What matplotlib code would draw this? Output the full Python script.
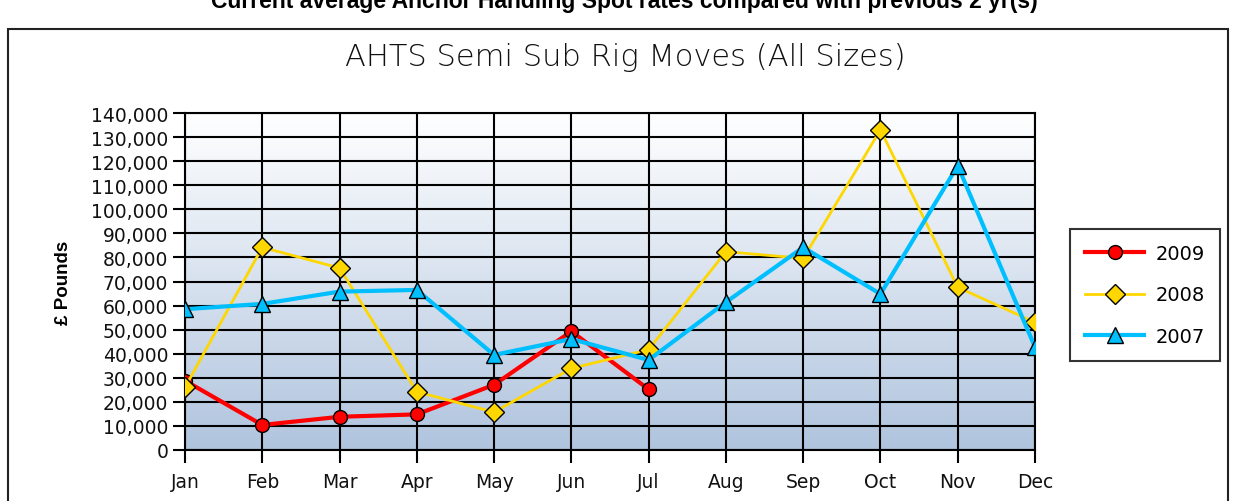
import numpy as np
import matplotlib
matplotlib.use("Agg")
import matplotlib.pyplot as plt
from matplotlib.patches import Rectangle
from matplotlib.ticker import FuncFormatter

# Datos
meses = ['Jan', 'Feb', 'Mar', 'Apr', 'May', 'Jun', 'Jul', 'Aug', 'Sep', 'Oct', 'Nov', 'Dec']
valores_2009 = [28800, 10400, 13800, 14800, 27100, 49300, 25200]
valores_2008 = [26000, 84200, 75600, 24200, 15700, 33900, 41700, 82400, 79600, 133000, 67600, 53000]
valores_2007 = [58500, 60700, 65800, 66500, 39500, 46100, 37400, 61400, 84200, 64800, 118100, 42700]
series = ['2009', '2008', '2007']

W, H = 1236, 502
fig = plt.figure(figsize=(W / 100, H / 100), dpi=100)
fig.patch.set_facecolor('white')

# Marco exterior y titulo superior (recortado arriba como en el original)
fig.patches.append(Rectangle((8 / W, -0.1), 1220 / W, 1.1 - 30 / H, transform=fig.transFigure,
                             fill=False, edgecolor='#222222', linewidth=1.5))
fig.text(0.505, 1 - 8 / H, 'Current average Anchor Handling Spot rates compared with previous 2 yr(s)',
         ha='center', va='baseline', fontsize=16.5, fontweight='bold', family='Liberation Sans')

ax = fig.add_axes([185 / W, 51 / H, 850 / W, 337 / H])
x = np.arange(len(meses))

# Fondo degradado blanco -> azul acero
grad = np.linspace(0, 1, 256).reshape(-1, 1)
cmap = matplotlib.colors.LinearSegmentedColormap.from_list('bg', ['#b0c4de', '#ffffff'])
ax.imshow(grad, aspect='auto', cmap=cmap, origin='lower',
          extent=[0, len(meses) - 1, 0, 140000], zorder=0)

ax.plot(x[:len(valores_2009)], valores_2009, color='#ff0000', lw=3, marker='o', ms=10,
        mfc='#ff0000', mec='black', mew=1, label=series[0], zorder=3)
ax.plot(x, valores_2008, color='#ffd700', lw=2, marker='D', ms=10,
        mfc='#ffd700', mec='black', mew=1, label=series[1], zorder=4)
ax.plot(x, valores_2007, color='#00bfff', lw=3, marker='^', ms=12,
        mfc='#00bfff', mec='black', mew=1, label=series[2], zorder=5)

ax.set_xlim(0, len(meses) - 1)
ax.set_ylim(0, 140000)
ax.set_xticks(x)
ax.set_xticklabels(meses)
ax.set_yticks(np.arange(0, 140001, 10000))
ax.yaxis.set_major_formatter(FuncFormatter(lambda v, p: f'{int(v):,}'))
ax.grid(True, color='black', linewidth=1.5, zorder=1)
ax.set_axisbelow(True)
for s in ax.spines.values():
    s.set_linewidth(1.5)
ax.tick_params(axis='both', length=9, width=1.5, labelsize=13.5, pad=3, labelcolor='#111111')
ax.tick_params(axis='x', pad=7)

ax.set_ylabel('£ Pounds', fontsize=13.5, fontweight='bold', family='Liberation Sans', labelpad=14)

fig.text(625 / W, 1 - 58 / H, 'AHTS Semi Sub Rig Moves (All Sizes)', ha='center', va='center',
         fontsize=22, family='DejaVu Sans', fontweight='light', color='#111111')

leg = ax.legend(loc='center left', bbox_to_anchor=(1.041, 0.46), borderaxespad=0, fontsize=14,
                frameon=True, fancybox=False, edgecolor='black', handlelength=3, borderpad=0.8,
                labelspacing=1.15, handletextpad=0.6)
leg.get_frame().set_linewidth(1.5)

plt.savefig('out.png', dpi=100)
